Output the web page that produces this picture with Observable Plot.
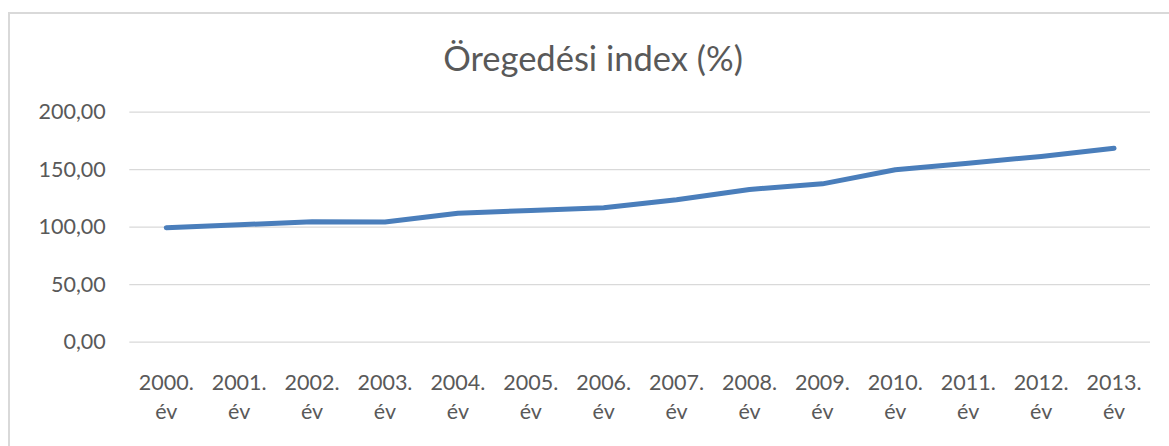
<!DOCTYPE html>
<html>
<head>
<meta charset="utf-8">
<script src="https://cdn.jsdelivr.net/npm/d3@7"></script>
<script src="https://cdn.jsdelivr.net/npm/@observablehq/plot@0.6"></script>
<style>
  html, body { margin: 0; padding: 0; background: #fff; }
  #wrap { position: relative; width: 1169px; height: 446px; overflow: hidden; background: #fff; }
  #frame { position: absolute; left: 8px; top: 12px; width: 1200px; height: 500px;
           border-left: 2px solid #d9d9d9; border-top: 2px solid #d9d9d9; box-sizing: border-box; }
  #title { position: absolute; left: 0; top: 38px; width: 1186px; text-align: center;
           font-family: Lato, sans-serif; font-size: 34.5px; color: #595959; line-height: 40px; }
  #chart { position: absolute; left: 0; top: 0; }
</style>
</head>
<body>
<div id="wrap">
  <div id="frame"></div>
  <div id="title">Öregedési index (%)</div>
  <div id="chart"></div>
</div>
<script>
const years = ["2000", "2001", "2002", "2003", "2004", "2005", "2006", "2007", "2008", "2009", "2010", "2011", "2012", "2013"];
const values = [99.6, 102.1, 104.7, 104.6, 112.2, 114.5, 116.9, 123.8, 132.8, 137.7, 149.9, 155.7, 161.5, 168.7];
const yTicks = [0, 50, 100, 150, 200];

const data = years.map((y, i) => ({year: y, value: values[i]}));

const plot = Plot.plot({
  width: 1169,
  height: 446,
  marginLeft: 129.3,
  marginRight: 19,
  marginTop: 111.7,
  marginBottom: 104.3,
  style: {background: "transparent", fontFamily: "Lato, sans-serif", color: "#595959"},
  x: {type: "point", domain: years, padding: 0.5, round: false},
  y: {domain: [0, 200]},
  marks: [
    Plot.ruleY(yTicks, {stroke: "#d9d9d9", strokeWidth: 1.3}),
    Plot.axisY({ticks: yTicks, tickSize: 0, tickPadding: 24, fontSize: 21.5,
      tickFormat: d => d.toFixed(2).replace(".", ","), label: null}),
    Plot.axisX({tickSize: 0, tickPadding: 27, fontSize: 21.5, lineHeight: 1.35,
      tickFormat: d => d + ".\név", label: null}),
    Plot.line(data, {x: "year", y: "value", stroke: "#4a7ebb", strokeWidth: 5,
      strokeLinecap: "round", strokeLinejoin: "round"})
  ]
});
document.getElementById("chart").appendChild(plot);
</script>
</body>
</html>
